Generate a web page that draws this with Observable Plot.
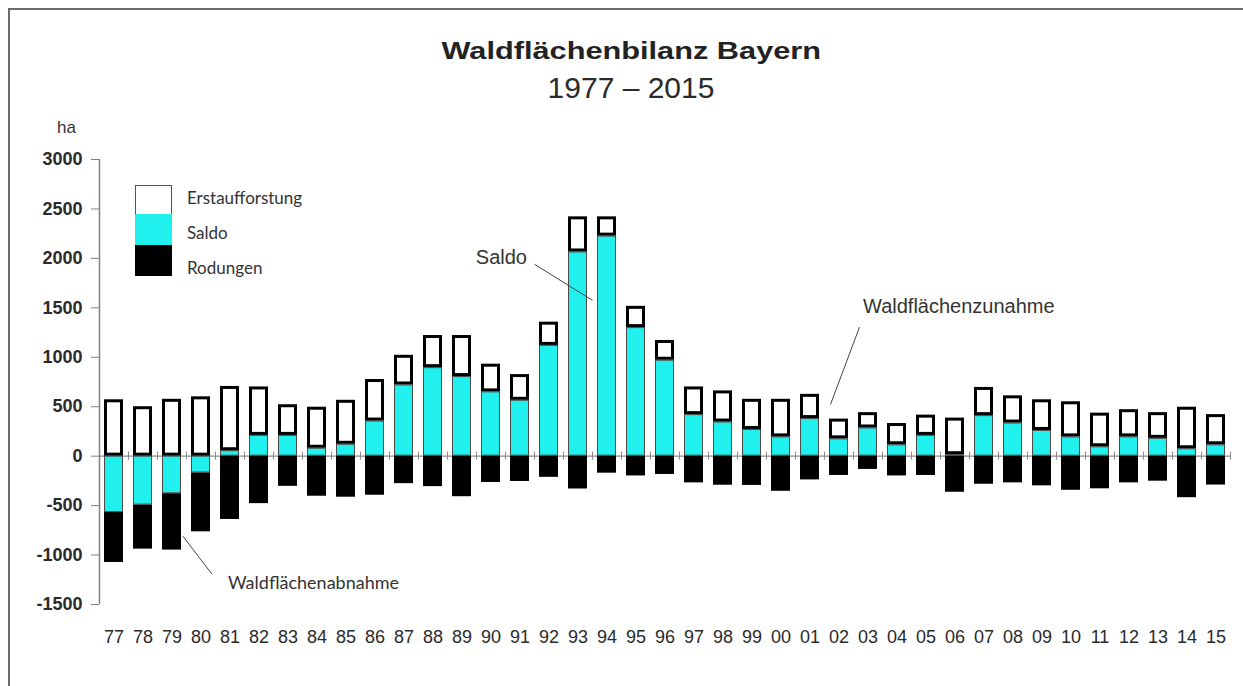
<!DOCTYPE html>
<html>
<head>
<meta charset="utf-8">
<script src="https://cdn.jsdelivr.net/npm/d3@7"></script>
<script src="https://cdn.jsdelivr.net/npm/@observablehq/plot@0.6"></script>
<style>
  html, body { margin: 0; padding: 0; background: #fff; }
  #wrap { position: relative; width: 1243px; height: 686px; overflow: hidden; font-family: 'Liberation Sans', Arial, sans-serif; color: #222; }
  #frame { position: absolute; left: 8px; top: 8px; width: 1260px; height: 700px; border-left: 2px solid #6a6a6a; border-top: 2px solid #6a6a6a; }
  #title { position: absolute; left: 0; width: 1262px; top: 39px; text-align: center; font-weight: bold; font-size: 24px; line-height: 24px; }
  #title span { display: inline-block; transform: scaleX(1.28); }
  #subtitle { position: absolute; left: 0; width: 1262px; top: 73px; text-align: center; font-size: 30px; line-height: 30px; color: #2a2a2a; }
  #ha { position: absolute; left: 57px; top: 118px; font-size: 17px; line-height: 20px; color: #333; }
  #chart { position: absolute; left: 0; top: 110px; }
  .sw { position: absolute; left: 135px; width: 37px; box-sizing: border-box; }
  .lg { position: absolute; left: 187px; font-family: Lato, 'Noto Sans', sans-serif; font-size: 17px; line-height: 20px; color: #333; }
  #chart svg [aria-label^="y-axis"] text { font-weight: bold; }
  #chart svg [aria-label^="y-axis"] path, #chart svg [aria-label^="y-axis"] line { stroke: #808080; }
</style>
</head>
<body>
<div id="wrap">
  <div id="frame"></div>
  <div id="title"><span>Waldflächenbilanz Bayern</span></div>
  <div id="subtitle">1977 – 2015</div>
  <div id="chart"></div>
  <div id="ha">ha</div>
  <div class="sw" style="top:185px;height:29px;background:#fff;border:1px solid #555;border-bottom:none"></div>
  <div class="sw" style="top:214px;height:31px;background:#20f0ee"></div>
  <div class="sw" style="top:245px;height:31px;background:#000"></div>
  <div class="lg" style="top:188px">Erstaufforstung</div>
  <div class="lg" style="top:223px">Saldo</div>
  <div class="lg" style="top:258px">Rodungen</div>
</div>
<script>
// ---- data ----
const years = ["77","78","79","80","81","82","83","84","85","86","87","88","89","90","91","92","93","94","95","96",
               "97","98","99","00","01","02","03","04","05","06","07","08","09","10","11","12","13","14","15"];
const erstaufforstung = [570, 500, 575, 600, 705, 700, 520, 495, 565, 775, 1020, 1220, 1220, 930, 825, 1355, 2420, 2420, 1515, 1170,
                         700, 660, 575, 575, 625, 375, 440, 330, 415, 385, 695, 610, 570, 550, 435, 470, 440, 495, 420];
const saldo = [-570, -495, -380, -170, 55, 210, 210, 80, 120, 355, 720, 895, 805, 650, 565, 1120, 2065, 2225, 1300, 970,
               420, 345, 270, 195, 380, 175, 285, 115, 210, 15, 410, 335, 260, 195, 95, 195, 180, 75, 115];
const rodungen = [1075, 940, 950, 765, 640, 480, 305, 405, 415, 395, 278, 308, 410, 266, 256, 214, 332, 172, 200, 185,
                  270, 294, 296, 355, 240, 195, 134, 200, 195, 365, 284, 270, 300, 345, 330, 270, 253, 420, 292];
const yTicks = [-1500, -1000, -500, 0, 500, 1000, 1500, 2000, 2500, 3000];

// annotation texts and their anchors (year, value)
const noteLabels = ["Saldo", "Waldflächenzunahme", "Waldflächenabnahme"];
const noteYears = ["91", "03", "80"];
const noteValues = [2010, 1515, -1290];
const leaderFromYears = ["91", "03", "79"];
const leaderFromValues = [1940, 1305, -810];
const leaderToYears = ["93", "02", "80"];
const leaderToValues = [1576, 523, -1194];

const cyan = "#20f0ee";
const table = years.map((year, i) => ({year, E: erstaufforstung[i], S: saldo[i], R: rodungen[i]}));

const W = 1243, H = 576, ML = 99, MR = 12, MT = 49, MB = 82;
const step = (W - ML - MR) / years.length;

const notes = noteLabels.map((label, i) => ({label, year: noteYears[i], value: noteValues[i]}));
const leaders = leaderFromYears.map((y, i) => ({x1: y, y1: leaderFromValues[i], x2: leaderToYears[i], y2: leaderToValues[i]}));

const chart = Plot.plot({
  width: W, height: H,
  marginLeft: ML, marginRight: MR, marginTop: MT, marginBottom: MB,
  style: {fontFamily: "'Liberation Sans', Arial, sans-serif", fontSize: "18px", color: "#2a2a2a", background: "transparent", overflow: "visible"},
  x: {domain: years, paddingInner: 0.33, paddingOuter: 0.165, label: null, tickSize: 0, tickPadding: 26},
  y: {domain: [-1500, 3000], ticks: yTicks, tickFormat: d => String(d), label: null, tickSize: 8, tickPadding: 9},
  marks: [
    Plot.ruleY([0], {stroke: "#8a8a8a", strokeWidth: 1.2}),
    Plot.ruleX(years, {x: d => d, dx: step / 2, y1: 0, y2: 0, insetTop: -4, insetBottom: -4, stroke: "#8a8a8a"}),
    Plot.barY(table, {x: "year", y1: 0, y2: "S", fill: cyan, stroke: "#4a4a4a", strokeWidth: 1, inset: 0.5}),
    Plot.barY(table, {x: "year", y1: d => Math.min(d.S, 0), y2: d => -d.R, fill: "#000"}),
    Plot.barY(table, {x: "year", y1: d => Math.max(d.S, 0), y2: "E", fill: "#fff", stroke: "#000", strokeWidth: 3, inset: 1.5}),
    Plot.ruleX([years[0]], {dx: -step / 2, stroke: "#808080", strokeWidth: 1.5}),
    Plot.link(leaders.slice(0, 1), {x1: "x1", y1: "y1", x2: "x2", y2: "y2", dx: step / 2, stroke: "#444", strokeWidth: 1}),
    Plot.link(leaders.slice(1, 2), {x1: "x1", y1: "y1", x2: "x2", y2: "y2", dx: -8.5, stroke: "#444", strokeWidth: 1}),
    Plot.link(leaders.slice(2, 3), {x1: "x1", y1: "y1", x2: "x2", y2: "y2", dx: 11, stroke: "#444", strokeWidth: 1}),
    Plot.text(notes.slice(0, 1), {x: "year", y: "value", text: "label", textAnchor: "end", dx: 7, fontSize: 20, fill: "#333"}),
    Plot.text(notes.slice(1, 2), {x: "year", y: "value", text: "label", textAnchor: "start", dx: -5, fontSize: 20, fill: "#333"}),
    Plot.text(notes.slice(2, 3), {x: "year", y: "value", text: "label", textAnchor: "start", dx: 27, fontSize: 18, fontFamily: "Lato, 'Noto Sans', sans-serif", fill: "#333"})
  ]
});
document.getElementById("chart").appendChild(chart);
</script>
</body>
</html>
